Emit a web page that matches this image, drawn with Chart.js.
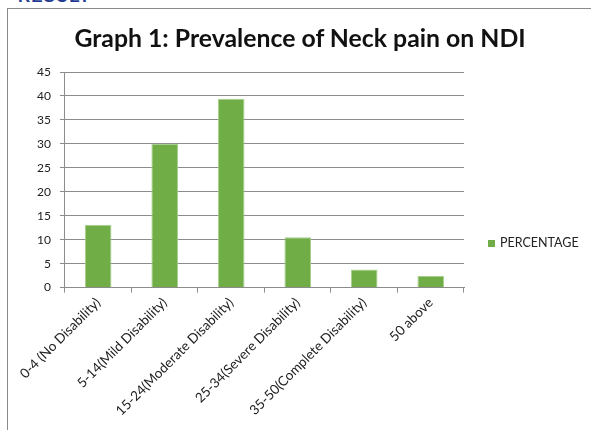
<!DOCTYPE html>
<html>
<head>
<meta charset="utf-8">
<script src="https://cdn.jsdelivr.net/npm/chart.js@4"></script>
<style>
  html, body { margin: 0; padding: 0; background: #fff; overflow: hidden; }
  body { width: 591px; height: 430px; position: relative; font-family: Lato, sans-serif; }
  #heading { position: absolute; left: 18px; top: -13px; font: bold 17px "Liberation Sans", sans-serif; color: #1f3a93; letter-spacing: 1px; }
  #frame { position: absolute; left: 7px; top: 8px; width: 584px; height: 422px; border-left: 1px solid #8a8a8a; border-top: 1px solid #8a8a8a; }
  #title { position: absolute; left: 8px; top: 26px; width: 584px; text-align: center; font: bold 24.8px/1 Lato, sans-serif; color: #111; white-space: nowrap; }
  #legend { position: absolute; left: 488px; top: 237px; font: 12.5px/1 Lato, sans-serif; color: #222; display: flex; align-items: center; }
  #legend span.box { display: inline-block; width: 7px; height: 7px; margin-right: 5px; }
</style>
</head>
<body>
<div id="heading">RESULT</div>
<div id="frame">
  <canvas id="chart" width="584" height="422"></canvas>
</div>
<div id="title"></div>
<div id="legend"></div>
<script>
const chartTitle = "Graph 1: Prevalence of Neck pain on NDI";
const categories = [
  "0-4 (No Disability)",
  "5-14(Mild Disability)",
  "15-24(Moderate Disability)",
  "25-34(Severe Disability)",
  "35-50(Complete Disability)",
  "50 above"
];
const percentage = [13.1, 30, 39.4, 10.5, 3.8, 2.4];
const yTicks = [0, 5, 10, 15, 20, 25, 30, 35, 40, 45];

const seriesLabel = "PERCENTAGE";
const barColor = "#70ad47";
const gridColor = "#8c8c8c";

const ctx = document.getElementById("chart").getContext("2d");

const chart = new Chart(ctx, {
  type: "bar",
  data: {
    labels: categories,
    datasets: [{
      label: seriesLabel,
      data: percentage,
      backgroundColor: barColor,
      borderColor: "#a8d08d",
      borderWidth: 1,
      barPercentage: 0.8,
      categoryPercentage: 0.5
    }]
  },
  options: {
    responsive: false,
    animation: false,
    layout: { padding: { left: 20, right: 128, top: 63, bottom: 10 } },
    plugins: {
      legend: { display: false },
      tooltip: { enabled: false },
      title: { display: false }
    },
    scales: {
      x: {
        offset: true,
        grid: { offset: true, drawOnChartArea: false, color: gridColor, tickLength: 5 },
        border: { color: gridColor },
        ticks: {
          minRotation: 45,
          maxRotation: 45,
          color: "#222",
          padding: 2,
          font: { family: "Lato", size: 13.5 }
        }
      },
      y: {
        min: yTicks[0],
        max: yTicks[yTicks.length - 1],
        afterBuildTicks: axis => { axis.ticks = yTicks.map(v => ({ value: v })); },
        grid: { color: gridColor, tickLength: 5 },
        border: { color: gridColor },
        ticks: {
          color: "#222",
          padding: 9,
          font: { family: "Lato", size: 12 }
        }
      }
    }
  }
});

document.getElementById("title").textContent = chartTitle;

// Legend drawn as HTML, built from the dataset
const legendEl = document.getElementById("legend");
chart.data.datasets.forEach(ds => {
  const box = document.createElement("span");
  box.className = "box";
  box.style.background = ds.backgroundColor;
  legendEl.appendChild(box);
  legendEl.appendChild(document.createTextNode(ds.label));
});
</script>
</body>
</html>
